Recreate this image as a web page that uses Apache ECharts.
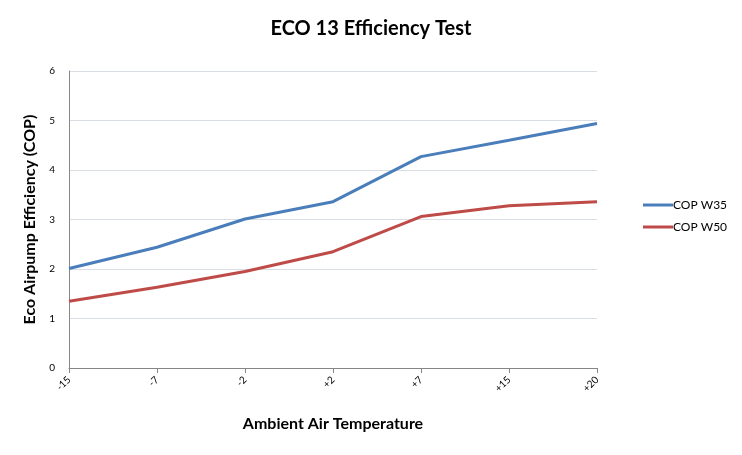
<!DOCTYPE html>
<html><head><meta charset="utf-8">
<script src="https://cdn.jsdelivr.net/npm/echarts@6/dist/echarts.min.js"></script>
<style>html,body{margin:0;padding:0;background:#fff}#c{width:742px;height:455px}</style>
</head><body><div id="c"></div>
<script>
const categories = ['-15','-7','-2','+2','+7','+15','+20'];
const copW35 = [2.01, 2.44, 3.01, 3.36, 4.27, 4.60, 4.94];
const copW50 = [1.35, 1.63, 1.95, 2.35, 3.06, 3.28, 3.36];
const seriesNames = ['COP W35', 'COP W50'];
const FONT = 'Lato, "Open Sans", sans-serif';
const chart = echarts.init(document.getElementById('c'));
chart.setOption({
  animation: false,
  title: { text: 'ECO 13 Efficiency Test', left: 'center', top: 14,
    textStyle: { fontFamily: FONT, fontSize: 20, fontWeight: 'bold', color: '#000' } },
  legend: { orient: 'vertical', left: 638, top: 194, itemGap: 10, itemWidth: 30, itemHeight: 3,
    icon: 'rect', textStyle: { fontFamily: FONT, fontSize: 12, color: '#000', padding: [0,0,0,-5] },
    data: seriesNames },
  grid: { left: 69, right: 145, top: 71, bottom: 87 },
  xAxis: { type: 'category', data: categories, boundaryGap: false,
    name: 'Ambient Air Temperature', nameLocation: 'middle', nameGap: 48,
    nameTextStyle: { fontFamily: FONT, fontSize: 16, fontWeight: 'bold', color: '#000' },
    axisLine: { lineStyle: { color: '#868686', width: 1 } },
    axisTick: { show: true, length: 5, lineStyle: { color: '#868686' } },
    axisLabel: { rotate: 45, fontFamily: FONT, fontSize: 10, color: '#000', margin: 10 },
    splitLine: { show: false } },
  yAxis: { type: 'value', min: 0, max: 6, interval: 1,
    name: 'Eco Airpump Efficiency (COP)', nameLocation: 'middle', nameGap: 28,
    nameTextStyle: { fontFamily: FONT, fontSize: 16, fontWeight: 'bold', color: '#000' },
    axisLine: { show: true, lineStyle: { color: '#868686', width: 1 } },
    axisTick: { show: false },
    axisLabel: { fontFamily: FONT, fontSize: 10, color: '#000', margin: 14 },
    splitLine: { lineStyle: { color: '#d9dde4', width: 1 } } },
  series: [
    { name: seriesNames[0], type: 'line', data: copW35, symbol: 'none',
      lineStyle: { color: '#4a7ebb', width: 3 }, itemStyle: { color: '#4a7ebb' } },
    { name: seriesNames[1], type: 'line', data: copW50, symbol: 'none',
      lineStyle: { color: '#be4b48', width: 3 }, itemStyle: { color: '#be4b48' } }
  ]
});
</script></body></html>
